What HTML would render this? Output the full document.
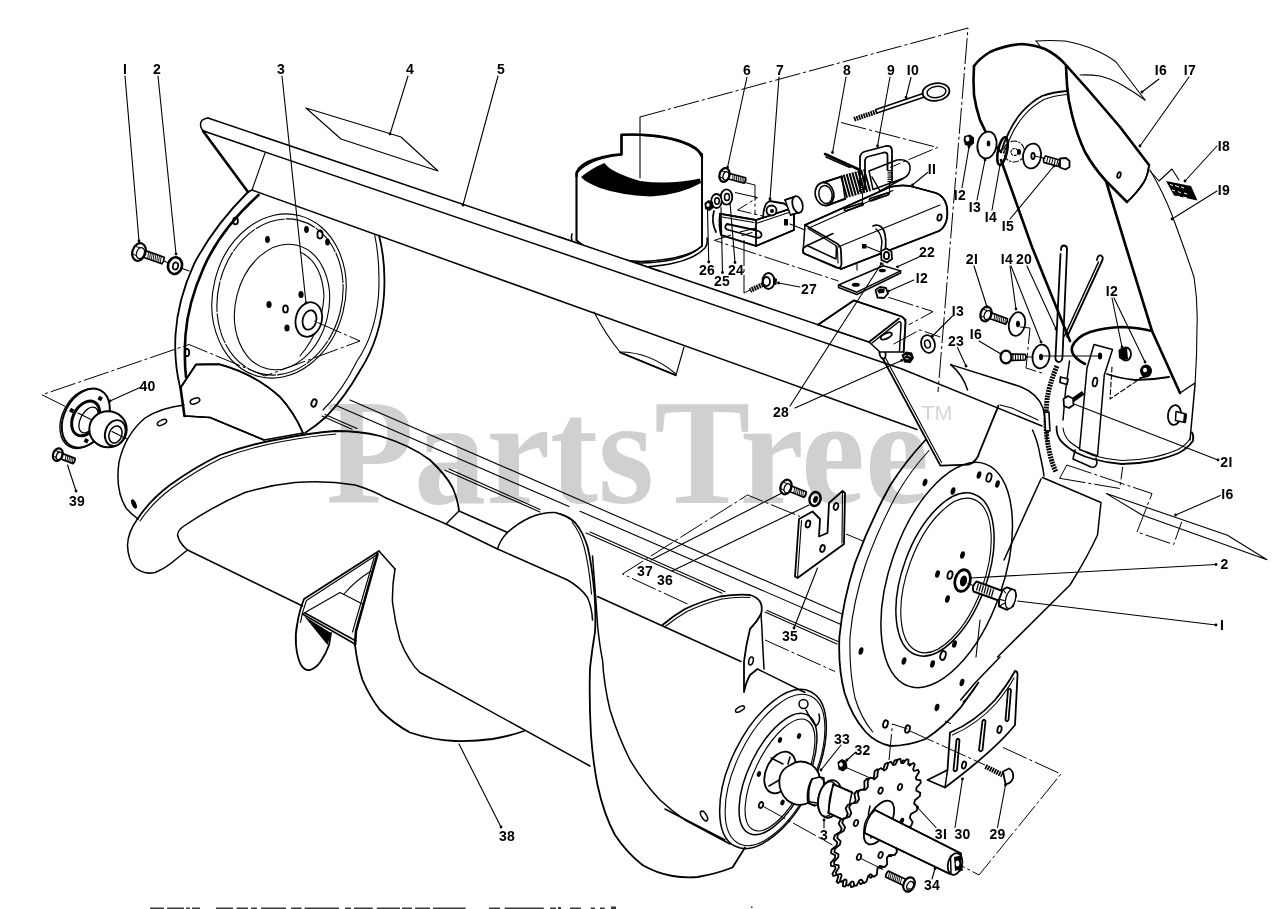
<!DOCTYPE html>
<html>
<head>
<meta charset="utf-8">
<title>Parts Diagram</title>
<style>
html,body{margin:0;padding:0;background:#fff;}
body{width:1280px;height:909px;overflow:hidden;font-family:"Liberation Sans",sans-serif;}
svg{display:block;position:absolute;left:0;top:0;}
.wm{font-family:"Liberation Serif",serif;font-weight:bold;fill:#cccccc;}
.tm{font-family:"Liberation Sans",sans-serif;font-weight:normal;fill:#cccccc;}
.l{fill:none;stroke:#000;stroke-width:1.5;stroke-linecap:round;stroke-linejoin:round;}
.t{fill:none;stroke:#000;stroke-width:1.1;stroke-linecap:round;stroke-linejoin:round;}
.m{fill:none;stroke:#000;stroke-width:1.8;stroke-linecap:round;stroke-linejoin:round;}
.b{fill:none;stroke:#000;stroke-width:2.6;stroke-linecap:round;stroke-linejoin:round;}
.w{fill:#fff;stroke:#000;stroke-width:1.5;stroke-linejoin:round;}
.wm2{fill:#fff;stroke:#000;stroke-width:1.8;stroke-linejoin:round;}
.k{fill:#000;stroke:none;}
.d{fill:none;stroke:#000;stroke-width:1;stroke-dasharray:26 3 3 3;}
.n{font-family:"Liberation Sans",sans-serif;font-weight:bold;font-size:14px;letter-spacing:0.3px;fill:#000;text-anchor:middle;}
</style>
</head>
<body>
<svg width="1280" height="909" viewBox="0 0 1280 909">
<rect x="0" y="0" width="1280" height="909" fill="#fff"/>

<!-- SECTION: housing -->
<g id="housing">
<!-- top bar -->
<path class="l" d="M208,118 L878,345"/>
<path class="l" d="M208,118 Q200,119 200.5,125 Q201,130 205,131.5"/>
<path class="l" d="M205,131.5 L902,369 L1042,426"/>
<path class="b" d="M203,131 L248,192"/>
<path class="t" d="M265,153 L252,190"/>
<path class="l" d="M248,192 L252,190 L848,404.5"/>
<path class="l" d="M848,404.5 L917,429.5"/>
<!-- bar end cap -->
<ellipse class="m" cx="882.5" cy="353" rx="3" ry="6" transform="rotate(-10 882.5 353)"/>
<path class="l" d="M878,345 Q882,344 885,347"/>
<!-- rear lower lines of housing -->
<path class="t" d="M350,400 L842,614"/>
<path class="t" d="M335,405 L569,506.5 M580,511.3 L841,624.5"/>
<path class="t" d="M322,416 L352,429.3 M445,470.2 L540,512 M586,533 L722,593.2 M765,612 L837,644"/>
<path class="t" d="M325,414.5 L357,428.6 M449,469 L540,509.5 M590,532 L725,591.8 M767,610.5 L838,641.5"/>
<!-- deflector lip under bar -->
<path class="t" d="M594,312 Q606,335 620,352 L676,375 L684,347"/>
<path class="t" d="M620,352 Q650,352 676,374"/>
<path class="l" d="M620,352.5 L676,375.5"/>
<!-- parallelogram 4 -->
<path class="t" d="M306,108 L401,137 L438,171 L341,139 Z"/>
</g>

<!-- SECTION: leftplate -->
<g id="leftplate">
<!-- outer edge -->
<path class="m" d="M248,192 Q214,226 194,264 Q177.5,300 175.5,335 Q174,362 180,387"/>
<path class="b" d="M258.500,195 Q220,230 203.5,268 Q188,303 185.5,335 Q184,360 186,377"/>
<path class="b" d="M180.500,387.500 L184.5,416"/>
<!-- right edge arc -->
<path class="m" d="M379,235.500 Q386,262 384,295 Q381,338 360.2,370.2 Q345,397 326.4,416.5 Q316,426 305,433"/>
<path class="t" d="M374.500,234 Q380.500,262 378.500,296 Q375,335 357,361 Q343,390 323,410"/>
<!-- outer ring (thin double) -->
<ellipse class="t" cx="279" cy="296" rx="66" ry="83" transform="rotate(14 279 296)"/>
<ellipse class="t" cx="280" cy="297" rx="62" ry="79" transform="rotate(14 280 297)" stroke-dasharray="30 2"/>
<!-- inner disc -->
<ellipse class="t" cx="282" cy="307" rx="46.500" ry="63.500" transform="rotate(13.5 282 307)"/>
<path class="t" d="M300,252 Q322,262 324,296 Q322,330 300,356"/>
<!-- hub washer 3 -->
<ellipse class="wm2" cx="308.8" cy="319.5" rx="13" ry="17.5" transform="rotate(14 308.8 319.5)" stroke-width="2.600"/>
<ellipse class="wm2" cx="309.5" cy="320" rx="6.800" ry="9.800" transform="rotate(14 309.5 320)" stroke-width="2.300"/>
<!-- hub holes -->
<ellipse class="k" cx="269" cy="304.5" rx="2.6" ry="3.6"/>
<ellipse class="k" cx="301" cy="294.5" rx="2.6" ry="3.6"/>
<ellipse class="k" cx="287" cy="328" rx="2.6" ry="3.6"/>
<ellipse class="m" cx="285.5" cy="309" rx="2.4" ry="3.6"/>
<!-- plate holes -->
<ellipse class="k" cx="267.5" cy="239.5" rx="2.4" ry="3.4"/>
<ellipse class="k" cx="306.5" cy="229.5" rx="2.4" ry="3.4"/>
<ellipse class="m" cx="320" cy="234.5" rx="2.6" ry="4"/>
<ellipse class="k" cx="327.5" cy="242" rx="2.4" ry="3.6"/>
<ellipse class="m" cx="235.5" cy="221" rx="2.4" ry="3.4"/>
<ellipse class="m" cx="187" cy="352.500" rx="2.200" ry="3.600"/>
<ellipse class="m" cx="314" cy="403" rx="2.4" ry="3.8" transform="rotate(20 314 403)"/>
<!-- drum cover -->
<path class="w" d="M181,387 L196,364.5 L219,364.2 Q255,374 280,397 Q294,412 303,433 L264,440 L210,417.5 L185,416 Z" stroke="none"/>
<path class="m" d="M181,387 L196,364.5 L219,364.2 Q255,374 280,397 Q294,412 303,433"/>
<path class="l" d="M185,416 L210,417.5 L264,440"/>
<ellipse class="l" cx="195" cy="401" rx="5" ry="2.6" transform="rotate(-20 195 401)"/>
</g>

<!-- SECTION: auger -->
<g id="auger">
<!-- left drum end -->
<path class="l" d="M184,405 Q160,408 145,418 Q125,435 119,462 Q115,490 126,508 Q131,514 138,519"/>
<ellipse class="l" cx="162" cy="422.5" rx="5" ry="2.3" transform="rotate(-25 162 422.5)"/>
<ellipse class="k" cx="134" cy="504" rx="2.2" ry="5" transform="rotate(-25 134 504)"/>
<!-- flight 1 outer -->
<path class="m" d="M137.500,519 Q150,500 170,485 Q195,467 220,455 Q250,444 280,439 Q310,433 335,431 Q360,431 380,436 Q410,445 430,460 Q446,475 452.500,487.500 Q458,500 459,511"/>
<path class="t" d="M140,521 Q152,503 172,488 Q197,470 222,458 Q252,447 282,441.5 Q312,436 336,434"/>
<path class="l" d="M137.500,519 Q128,532 127.500,545 Q128,560 135,567.500 Q144,575 155,572.500 Q166,568 175,560 L187.500,550"/>
<!-- flight 1 inner -->
<path class="l" d="M187.500,550 Q179,543 177.500,535 Q178,530 184,526 Q215,505 245,492.500 Q270,485 295,482.500 Q325,480 355,485 Q372,490 385,497.500 L446,524 L497.500,549 L567.500,580 Q580,587 587.500,597.500 Q592,608 592.500,620"/>
<path class="l" d="M187.500,550 L302.500,606"/>
<path class="l" d="M459,511 L446,524"/>
<path class="l" d="M459,511 L507.500,532.500"/>
<!-- flight 2 -->
<path class="l" d="M497.500,549 Q500,540 507.500,532.500 Q518,523 530,517.500 Q543,512 555,512.500 Q566,515 575,522.500"/>
<path class="m" d="M560,514 Q570,517 575,522.500 Q583,532 587.500,546.500 Q592,565 594.5,594 Q596,615 595,632 Q592,650 590,668 Q589,700 591,735 Q593,762 597.500,785 Q604,815 615,835 Q627,853 642.500,865 Q656,873 672.500,876 Q685,878 697.500,877 Q716,874 732.500,867.500 L745,847.500"/>
<path class="t" d="M572,522 Q580,532 584,546.500 Q589,565 591.5,594"/>
<path class="l" d="M592.5,556 Q596,600 597.6,626 Q599.5,645 602.5,660 Q604,685 610,710 Q618,736 630,760 Q643,782 660,800 Q672,811 685,820 L730,844"/>
<path class="l" d="M597.500,596.500 L741,661.500"/>
<!-- paddle -->
<path class="m" d="M379,551 L304,599 Q299,612 297.500,622.500 Q295,634 296,645 Q297,657 301,665 Q305,671 310,670 Q316,668 320,662.500 Q326,654 329,645 L331,633"/>
<path class="t" d="M376.500,555 L306.500,600.500 Q302,612 300.500,622.500"/>
<path class="t" d="M302.500,614 L340,592.500 L362.500,604"/>
<path class="l" d="M302.500,614 L355,644 M305,613 L356,641"/>
<path class="k" d="M304,616 L331,633 L327.500,645 Z"/>
<path class="b" d="M377.500,554 L356,631 L355,645"/>
<path class="t" d="M374,558 L352.500,632"/>
<path class="l" d="M379,551 L395,569"/>
<path class="t" d="M344,594 Q355,581 371,571"/>
<!-- big blade 38 -->
<path class="m" d="M355,645 Q357,663 362.500,680 Q370,697 380,710 Q394,724 410,732.500 Q432,740 455,741 Q475,741.5 492.500,739 Q510,736 524,731"/>
<path class="l" d="M395,569 Q392,586 392.500,602.500 Q395,622 400,640 Q404,651 410,660 Q414,667 420,672.500 L590,766"/>
<!-- flight 3 -->
<path class="m" d="M662.500,625 Q673,616 685,609 Q702,601 720,596.500 Q736,594 750,595 Q757,597 760,601.500 Q763,607 761,614 Q757,622 750,629 Q746,645 744,661.500 L744,692 Q746,682 750,675 L757.500,669"/>
<path class="t" d="M664.500,627 Q675,618.500 687,611.500 Q704,603.500 722,599 Q737,596.500 750,597.500"/>
<path class="l" d="M761,614 Q762,628 762.500,641.500 L764,669"/>
<ellipse class="l" cx="751" cy="661" rx="2.2" ry="4" transform="rotate(12 751 661)"/>
<!-- drum right end -->
<path class="l" d="M757.500,669 L805,692.500"/>
<path class="l" d="M665,809 L725,840"/>
<ellipse class="l" cx="740" cy="709" rx="5" ry="2.2" transform="rotate(-30 740 709)"/>
<ellipse class="l" cx="704" cy="816" rx="2.5" ry="5.500" transform="rotate(-30 704 816)"/>
<ellipse class="l" cx="773" cy="769" rx="86" ry="42" transform="rotate(-64 773 769)"/>
<ellipse class="t" cx="775" cy="770" rx="82" ry="38.5" transform="rotate(-64 775 770)"/>
<ellipse class="l" cx="778" cy="774" rx="66" ry="29" transform="rotate(-64 778 774)"/>
<ellipse class="t" cx="780" cy="775" rx="61" ry="25" transform="rotate(-64 780 775)"/>
</g>

<!-- SECTION: rightplate -->
<g id="rightplate">
<!-- triangular gusset -->
<path class="m" d="M882.5,358 L940.4,465.6 L968.5,464.7 Q977,462 979.7,451.6 L998.4,405.8"/>
<path class="t" d="M885,357 L941.5,462.5"/>
<!-- plate outer curve -->
<path class="m" d="M925.5,440 Q905,462 890,485.7 Q870,522 855,563 Q843,600 839.4,637 Q838,668 844.6,693 Q852,717 865.7,732 Q876,743 890.4,746 Q908,746 925.5,739 Q944,727 960.7,707.4 L978.3,682.8"/>
<path class="t" d="M929,450.5 Q911,470 897,494 Q879,527 865.7,564 Q853,602 850,637 Q849,670 855,698 Q861,718 872.8,732"/>
<!-- ring outer ellipse -->
<ellipse class="l" cx="946.7" cy="575" rx="117.5" ry="56.5" transform="rotate(-71 946.7 575)"/>
<!-- inner disc double -->
<ellipse class="l" cx="945" cy="574.5" rx="85.4" ry="42" transform="rotate(-70 945 574.5)"/>
<ellipse class="t" cx="946" cy="575.5" rx="81" ry="38" transform="rotate(-70 946 575.5)"/>
<!-- holes -->
<ellipse class="k" cx="925" cy="482.500" rx="2.3" ry="3.8" transform="rotate(15 925 482.5)"/>
<ellipse class="k" cx="953" cy="491" rx="2.3" ry="3.8" transform="rotate(15 953 491)"/>
<ellipse class="k" cx="979" cy="475" rx="2.2" ry="3.8" transform="rotate(15 979 475)"/>
<ellipse class="m" cx="989" cy="477.500" rx="2.4" ry="4.4" transform="rotate(15 989 477.5)"/>
<ellipse class="k" cx="997.500" cy="484" rx="2.2" ry="3.8" transform="rotate(15 997.5 484)"/>
<ellipse class="k" cx="962.500" cy="555" rx="2.3" ry="3.8" transform="rotate(15 962.5 555)"/>
<ellipse class="k" cx="937.500" cy="574" rx="2.3" ry="3.8" transform="rotate(15 937.5 574)"/>
<ellipse class="m" cx="950" cy="575" rx="2.4" ry="4" transform="rotate(15 950 575)"/>
<ellipse class="k" cx="947.500" cy="599" rx="2.3" ry="3.8" transform="rotate(15 947.5 599)"/>
<ellipse class="k" cx="861" cy="651" rx="2.3" ry="3.8" transform="rotate(15 861 651)"/>
<ellipse class="k" cx="904" cy="661" rx="2.3" ry="3.8" transform="rotate(15 904 661)"/>
<ellipse class="k" cx="932.500" cy="664" rx="2.3" ry="3.8" transform="rotate(15 932.5 664)"/>
<ellipse class="m" cx="943" cy="655.500" rx="2.6" ry="4.6" transform="rotate(15 943 655.5)"/>
<ellipse class="k" cx="954.500" cy="644" rx="2.3" ry="3.8" transform="rotate(15 954.5 644)"/>
<ellipse class="k" cx="962" cy="682.500" rx="2.3" ry="3.8" transform="rotate(15 962 682.5)"/>
<ellipse class="k" cx="937" cy="707.500" rx="2.3" ry="3.8" transform="rotate(15 937 707.5)"/>
<ellipse class="m" cx="885.500" cy="724" rx="2.3" ry="3.8" transform="rotate(15 885.5 724)"/>
<ellipse class="m" cx="907.500" cy="729" rx="2.3" ry="3.8" transform="rotate(15 907.5 729)"/>
<!-- washer 2 and bolt 1 -->
<ellipse cx="962.600" cy="580.600" rx="7.600" ry="11" transform="rotate(15 962.6 580.6)" fill="#fff" stroke="#000" stroke-width="2.800"/>
<ellipse class="k" cx="963.500" cy="581" rx="3.400" ry="5.500" transform="rotate(15 963.5 581)"/>
<path class="t" d="M968,583.500 L973,585.500"/>
<path d="M976.500,581.500 L1004,591.500 L1000,601 L973.500,591.500 Q971.500,586 976.500,581.500 Z" fill="#fff" stroke="#000" stroke-width="1.900" stroke-linejoin="round"/>
<path d="M978.500,583.500 L976.500,590.500 M981,584.500 L979,591.500 M983.500,585.500 L981.500,592.500 M986,586.500 L984,593.500 M988.500,587.500 L986.500,594.500 M991,588.500 L989,595.500 M993.500,589.500 L991.500,596.500" stroke="#000" stroke-width="1.200" fill="none"/>
<path d="M1003,589.500 L1007,587.300 L1015,590.500 L1016,595.400 L1013,606.300 L1007,609.800 L999,606.300 L999,599.400 Z" fill="#fff" stroke="#000" stroke-width="1.900" stroke-linejoin="round"/>
<ellipse cx="1010.600" cy="599" rx="4.800" ry="9.800" transform="rotate(15 1010.6 599)" fill="#fff" stroke="#000" stroke-width="1.300"/>
<path class="t" d="M1003,589.500 L1005.500,593 M999,599.400 L1004.500,600.500 M999,606.300 L1005,603"/>
<!-- side shield -->
<path class="l" d="M1032.500,430 Q1038,442 1040,455 Q1043,468 1044,476"/>
<path class="l" d="M1042.500,477.500 L1101,502.500 L1097.500,535 Q1088,556 1070,585 L997.500,657"/>
<path class="l" d="M1041,479 L1004,560"/>
<path class="t" d="M980,620 L976,657"/>
<!-- 23 curve top -->
<path class="l" d="M950.7,364.6 L1020,386.5 Q1037,393 1043,408 Q1046,420 1047,440"/>
<path class="l" d="M950.7,364.6 Q963,375 967.6,390"/>
<path class="t" d="M1000,405 L1012,408 L1038,420"/>
</g>

<!-- SECTION: cylinder -->
<g id="cylinder">
<path class="w" d="M576.5,173 L576.5,240 Q600,262 641,263 Q685,262 702,246 L702,154 Q680,134 621.5,134.700 L621.5,154.400 Q590,158 576.5,173 Z" stroke="none"/>
<path class="l" d="M572,234 Q570,240 575,246 Q600,266 645,267 Q690,264 705,248 Q708,244 707,238"/>
<path class="l" d="M576.5,240.5 Q600,260 641,261.5 Q685,260 702,246"/>
<path class="m" d="M576.5,173 L576.5,240.5"/>
<path class="m" d="M702,154 L702,246"/>
<path class="b" d="M576.5,176 Q576,168 588,162 Q602,156 621.5,154.400 L621.5,134.700 Q665,133 690,145 Q700,150 702,157"/>
<path class="k" d="M581,177 Q592,168 604.5,163 Q610,172 640,181 Q670,185 700,178.500 L701,183 Q680,195 650.500,196.500 Q620,195 600,188 Q585,182 581,177 Z"/>
<path d="M560,237.300 L655,269.500 L655,281 L560,248.800 Z" fill="#fff"/>
<path class="l" d="M560,237.300 L660,271.200"/>
</g>

<!-- SECTION: topparts -->
<g id="topparts">
<!-- eye bolt 10 -->
<ellipse class="m" cx="936" cy="92" rx="13.500" ry="8.800" transform="rotate(-8 936 92)"/>
<ellipse class="l" cx="936.5" cy="92" rx="9.500" ry="5.600" transform="rotate(-8 936.5 92)"/>
<path class="l" d="M923,93.500 L876,109.500 M924.500,97 L877,113"/>
<path d="M877,111.500 L853.500,119.500" stroke="#000" stroke-width="4.800" stroke-dasharray="1.700 0.800" fill="none"/>
<!-- spring 8 leg -->
<path class="b" d="M825,154 L860,170"/>
<path class="l" d="M826,157 L850,167.500"/>
<!-- channel 11 -->
<path class="w" d="M805,225 L890,187 Q900,184.500 910,186 L936,193 Q944,196 946.500,205 Q948.500,215 946,222 Q944,228 939,231 L841,269 L803,253 Z" stroke="none"/>
<path class="m" d="M805,225 L890,187 Q900,184.500 910,186 L936,193 Q944,196 946.500,205 Q948.500,215 946,222 Q944,228 939,231 L841,269"/>
<path class="t" d="M809,228 L893,190.500 M838,247 L940,205"/>
<path class="m" d="M805,225 L837,243.500 Q841,246 841,251 L841.500,264 Q841,269.500 836,267.500 L805,254 Q802,252 803.500,248 L807,245.500"/>
<path class="l" d="M807,245.500 L833,233.500 M807,245.500 L836,259 L836.500,246"/>
<path class="t" d="M808,228.500 L835,245 Q837.500,247 837.500,251 L838,263"/>
<ellipse class="m" cx="939.500" cy="217.500" rx="2" ry="3.200" transform="rotate(15 939.5 217.5)"/>
<!-- slots on top of channel -->
<path class="m" d="M845,208.500 L862,203 Q864,203.500 863,205 L846,210.800 Q843.500,210.500 845,208.500 Z"/>
<path class="m" d="M870,198.500 L887,193 Q889,193.500 888,195 L871,200.800 Q868.500,200.500 870,198.500 Z"/>
<!-- curved strap on channel side -->
<path class="m" d="M873,226 Q880,223 884,231 Q887,240 885,251"/>
<path class="l" d="M876,229 Q881,233 882,242 L881,250"/>
<rect class="k" x="862" y="244" width="4.500" height="4.500"/>
<path class="t" d="M866.500,246.500 L880,252"/>
<!-- nut on channel -->
<path class="wm2" d="M881,251 L886.500,248.500 L891.500,251.500 L892,259 L887,262.500 L881.500,260 Z"/>
<ellipse class="m" cx="886.500" cy="255.500" rx="2.600" ry="3.600"/>
<path class="t" d="M857,263 L857,270 M883,263.500 L883,268"/>
<!-- spring/tube 8 -->
<path class="w" d="M823,182.500 L842,176.500 L845,198.500 L827,205.500 Z" stroke="none"/>
<path class="m" d="M822,182.800 L842,176.300 M827.500,205.300 L845.500,198.800"/>
<ellipse class="wm2" cx="824.500" cy="194" rx="9.300" ry="11.600" transform="rotate(-12 824.5 194)" stroke-width="2"/>
<ellipse class="l" cx="825.500" cy="194.500" rx="6.600" ry="9" transform="rotate(-12 825.5 194.5)"/>
<path d="M843,187 L868,180" stroke="#000" stroke-width="23" stroke-dasharray="2 1" fill="none"/>
<path class="w" d="M869,171 L897,160 Q908,158.500 910,166 Q911,175 903,178.500 L873,189.500 Z"/>
<path class="l" d="M872,177 L880,191 L903,178.500"/>
<!-- u-bolt 9 -->
<path class="m" d="M860,191 L860,158 Q860,153 865,151.500 L886,146 Q892,145 892,151 L892,181"/>
<path class="m" d="M865,189 L865,161 Q865,157.500 868.500,156.500 L884,152.500 Q887.500,152 887.500,155.500 L887.500,170"/>
<path d="M889.500,170 L889.500,182" stroke="#000" stroke-width="4" stroke-dasharray="1.200 1" fill="none"/>
<path d="M862.500,178 L862.500,193" stroke="#000" stroke-width="4" stroke-dasharray="1.200 1" fill="none"/>
<path class="t" d="M862.500,193 L862.500,204 M889.500,182 L889.500,194"/>
<!-- plate 22 -->
<path class="w" d="M838.500,285 L883.300,265.800 L900.600,270.900 L900.600,273 L856.800,294.500 L838.500,287.500 Z"/>
<path class="l" d="M838.500,285 L856.800,292.200 L900.600,270.900"/>
<ellipse class="k" cx="855.800" cy="284.700" rx="4" ry="2"/>
<ellipse class="k" cx="882.300" cy="270.500" rx="3.600" ry="1.800"/>
<!-- nut 12 -->
<path class="wm2" d="M875.500,290 L880,287 L886,288 L888,293.500 L884,298 L877.500,297.500 Z" stroke-width="1.600"/>
<path class="k" d="M877,290.500 L880.500,288.500 L885,289.500 L884,293 L879,293.500 Z"/>
<!-- bracket 7 -->
<path class="w" d="M720,213.750 L756,220 L794,207.500 L794,230 L756,246 L721,235 Z" stroke="none"/>
<path class="m" d="M720,213.750 L756,220 L756,246 L721,235 Q718.500,225 720,213.750"/>
<path class="m" d="M756,220 L794,207.500 L794,230 L756,246"/>
<path class="t" d="M722,217 L754,222.500 M757.500,223 L792,211.500"/>
<path class="m" d="M727,224 L757,230.500 Q762,232 761.500,235.500 Q760.500,238.500 756,237.500 L727,229.500 Q723.500,227 727,224 Z"/>
<path class="t" d="M740,232 L756,228 M742,235.500 L752,232.500"/>
<rect class="k" x="784" y="219" width="4" height="6.500"/>
<path class="wm2" d="M763,217.500 Q763.500,204 769.500,201 L784,203.500 L790.500,208.500 L768,216 Z"/>
<circle class="wm2" cx="771.500" cy="210.500" r="5" stroke-width="1.700"/>
<circle class="k" cx="772" cy="211" r="2"/>
<path class="w" d="M785,200 L795,196.500 L801,212 L790.500,215 Z" stroke="none"/>
<path class="l" d="M785,200 L795,196.500 M790.500,215 L800,212"/>
<ellipse class="wm2" cx="797.500" cy="204.500" rx="5" ry="8.500" transform="rotate(-15 797.5 204.5)"/>
<path class="t" d="M790,224 L805,230"/>
<!-- washers 24,25 nut 26 -->
<ellipse class="wm2" cx="726.500" cy="197" rx="5.800" ry="7.600"/>
<ellipse class="l" cx="727" cy="197" rx="2.500" ry="3.600"/>
<ellipse class="wm2" cx="716.500" cy="201" rx="5.200" ry="7"/>
<ellipse class="l" cx="717" cy="201" rx="2.300" ry="3.300"/>
<path class="k" d="M704.500,203 L708.500,200 L713,202 L713.500,208 L709.500,211 L705,209 Z"/>
<ellipse cx="708" cy="205" rx="1.600" ry="2" fill="#fff"/>
<path class="m" d="M714,211 Q711,222 716,232"/>
<!-- bolt 6 -->
<path d="M727.5,178.700 L744.3,183.200 Q746.400,180.900 745.700,177.800 L728.900,173.300 Z" fill="#fff" stroke="#000" stroke-width="1.700" stroke-linejoin="round"/>
<path d="M732.8,179.800 L732.9,174.700 M734.6,180.300 L734.8,175.200 M736.5,180.800 L736.6,175.700 M738.3,181.300 L738.4,176.200 M740.1,181.800 L740.3,176.700 M742.0,182.200 L742.1,177.200 M743.8,182.700 L743.9,177.600 " stroke="#000" stroke-width="0.9" fill="none"/>
<ellipse cx="724.5" cy="175.0" rx="5.0" ry="7.0" transform="rotate(15.0 724.5 175.0)" fill="#fff" stroke="#000" stroke-width="2.2"/>
<ellipse cx="726.2" cy="175.5" rx="2.9" ry="4.3" transform="rotate(15.0 724.5 175.0)" fill="none" stroke="#000" stroke-width="1.3"/>
<path d="M719.6,177.0 L723.6,178.4 M721.3,170.9 L725.4,171.6" stroke="#000" stroke-width="1" fill="none"/>
<!-- screw 27 -->
<ellipse class="wm2" cx="768.500" cy="281" rx="6" ry="8" stroke-width="1.700"/>
<ellipse class="wm2" cx="766.500" cy="281.500" rx="3.500" ry="4.500"/>
<path d="M763,284.500 L750,290.500" stroke="#000" stroke-width="5" stroke-dasharray="1.800 0.800" fill="none"/>
<path class="k" d="M773,277 L777,279 L776.500,284.500 L773,285.500 Z"/>
<!-- bracket 28 on bar -->
<path class="w" d="M818,324.800 L853.800,300.400 L901.600,316.600 L905.700,319.700 L903.600,352 L880,352 L869,342 Z" stroke="none"/>
<path class="m" d="M818,324.800 L853.800,300.400 L899,315.500 Q905.500,317.500 905.500,323 L903.600,352"/>
<path class="m" d="M869,342 L899,318.500"/>
<path class="l" d="M872,343 L898.500,322 Q901,321 901,324.500 L899.500,351"/>
<ellipse class="m" cx="886.300" cy="336" rx="6" ry="2.600" transform="rotate(-25 886.3 336)"/>
<!-- nut & washer 13 near bar end -->
<path class="k" d="M901.500,355 L906,351.500 L912,352.500 L914,358 L910.500,363 L904,362.500 Z"/>
<path d="M904,356.500 l2.500,-1.500 m1.500,0.500 l2.500,1 m-5,2 l3,0.500" stroke="#fff" stroke-width="0.900" fill="none"/>
<ellipse class="wm2" cx="928" cy="344" rx="6.800" ry="9" transform="rotate(-15 928 344)" stroke-width="1.700"/>
<ellipse class="l" cx="927.500" cy="344" rx="2.800" ry="4" transform="rotate(-15 927.5 344)"/>
</g>

<!-- SECTION: chute -->
<g id="chute">
<!-- piece 16 top (thin) -->
<path class="t" d="M1036,41 Q1050,40 1065,41 Q1082,44 1095,50 Q1107,55 1116,62 L1145,100"/>
<path class="t" d="M1080,75 Q1090,74.5 1100,76 Q1112,79 1122,85 Q1134,92 1145,100"/>
<path class="t" d="M1036,41 L1040,46"/>
<!-- chute body 19 -->
<path class="t" d="M1150,170 Q1163,192 1172,215 Q1185,250 1194,277 Q1198,302 1197,327 Q1197,355 1195,385"/>
<path class="b" d="M1001,160 L1032,247 L1070,341"/>
<path class="b" d="M1106,181 L1126,247 L1152,331 L1180,393"/>
<path class="l" d="M1180,393 L1195,383"/>
<!-- deflector 17 -->
<path class="w" d="M1065,64 L1090,92 L1120,127 L1149,165 Q1148,175 1144,182 Q1137,193 1127,202 L1106,181 Q1094,168 1085,152 Q1077,135 1072,115 Q1068,100 1067,85 L1066,66 Z" stroke="none"/>
<path class="b" d="M974,66 Q980,58 990,52 Q1005,45 1022,44 Q1035,45 1045,49 Q1057,55 1065,64 L1090,92 L1120,127 L1149,165"/>
<path class="m" d="M1149,165 Q1148,175 1144,182 Q1137,193 1127,202"/>
<path class="b" d="M1127,202 L1106,181 Q1094,168 1085,152 Q1077,135 1072,115 Q1068,100 1067,85 L1066,66"/>
<path class="b" d="M974,66 Q973,80 974,95 Q976,108 980,120 Q985,132 992,142 L1001,152"/>
<path class="m" d="M1067,91 Q1053,92 1042,96 Q1031,102 1022,112 Q1014,121 1009,132 Q1004,142 1001,152"/>
<path class="t" d="M1067,94.5 Q1054,95.5 1044,99.500 Q1033,105.500 1025,114.500 Q1017,123.5 1012,134 Q1007,144 1004,153"/>
<ellipse class="m" cx="1119" cy="175" rx="1.600" ry="3" transform="rotate(15 1119 175)"/>
<!-- hardware 12,13,14,15 -->
<path class="k" d="M964.5,136 L970,134.5 L974,137.500 L974,143.500 L970,146.5 L965,145 L963.5,140 Z"/>
<ellipse cx="967.5" cy="139" rx="2" ry="2.5" fill="#fff"/>
<ellipse class="wm2" cx="987" cy="145" rx="9.500" ry="13.500" transform="rotate(10 987 145)" stroke-width="2.300"/>
<ellipse class="k" cx="988.5" cy="143.500" rx="1.800" ry="3"/>
<ellipse class="b" cx="1002.5" cy="151" rx="4.5" ry="14" transform="rotate(12 1002.5 151)"/>
<circle class="t" cx="1014" cy="151.500" r="10.500" stroke-dasharray="6 2 1.5 2"/>
<circle class="t" cx="1014.5" cy="152" r="3.5" stroke-dasharray="2 1.5"/>
<ellipse class="k" cx="1019" cy="152" rx="2" ry="3"/>
<ellipse class="wm2" cx="1032" cy="156" rx="9" ry="12.500" transform="rotate(10 1032 156)" stroke-width="2.300"/>
<ellipse class="m" cx="1033" cy="156" rx="1.700" ry="3"/>
<path d="M1045.500,156 L1060,160 L1058.500,166.500 L1044,162.500 Q1042.500,159 1045.500,156 Z" fill="#fff" stroke="#000" stroke-width="1.700"/>
<path d="M1048,157 L1046.500,163 M1050.500,157.700 L1049,163.700 M1053,158.400 L1051.500,164.400 M1055.500,159.100 L1054,165.100 M1058,159.800 L1056.500,165.800" stroke="#000" stroke-width="1" fill="none"/>
<path class="wm2" d="M1060,158.5 L1066,158 L1069.5,161 L1069.5,167 L1065.5,169.500 L1060,167.500 Z"/>
<path class="t" d="M1035,156 L1045,158.500"/>
<!-- decal 18 -->
<path class="k" d="M1166,181 L1191,186 L1197.500,200.500 L1174,195.500 Z"/>
<path d="M1170,184.500 l3,1 m2,0 l4,1.500 m2,0 l3,1 m-12,2 l3,1 m3,0.500 l3,1.500 m3,0 l3,1 m-10,2 l3,1 m3,0 l4,1" stroke="#fff" stroke-width="1" fill="none"/>
<path class="t" d="M1150,171 L1159,181 L1172,169 L1179,180"/>
<!-- rods 20 -->
<path class="m" d="M1061,250 Q1061,245.500 1064,245.500 Q1067.500,246 1067,250 L1062.500,357 Q1062,362 1058.500,362 Q1055,361.500 1055.500,357 L1060.500,254"/>
<path class="m" d="M1097,260 Q1097.500,255 1101,255.500 Q1104,257 1102,261 L1067,337"/>
<path class="l" d="M1098.5,262 L1064.5,336"/>
<!-- braided cable -->
<path d="M1057,366 Q1049,385 1047,400 Q1045,420 1047,438 Q1050,460 1056,472" fill="none" stroke="#000" stroke-width="5" stroke-dasharray="1.900 0.900"/>
<path d="M1046.500,413 L1047.500,430" stroke="#fff" stroke-width="3" fill="none"/>
<path class="l" d="M1044.5,412 L1049,412 L1050,431 L1045.5,431 Z"/>
<!-- lower ring top ellipse -->
<path class="b" d="M1085,364 Q1070,356 1072,347 Q1076,337 1090,332 Q1105,327.500 1122,327 Q1138,327.500 1152,331"/>
<path class="m" d="M1107,374 Q1120,378.500 1135,380 Q1152,380 1169,377"/>
<!-- ring cylinder sides -->
<path class="l" d="M1195,385 L1190,440"/>
<path class="l" d="M1069.500,361 Q1065,390 1063,420"/>
<!-- flange -->
<path class="m" d="M1056.6,426.4 Q1056,434 1060.7,440.7 Q1067,448 1077,453 Q1085,457 1093,459 Q1107,463 1121.700,464 Q1137,464 1152,461 Q1167,458 1178.700,453 Q1188,448 1193,440.700 Q1194,436 1192,432.500"/>
<path class="t" d="M1063,428 Q1064,436 1070,442 Q1080,450 1093,455.500 Q1107,459.5 1121.700,460.5 Q1137,460.5 1152,457.500 Q1167,454.5 1178,449.500 Q1186,445 1190,438.700"/>
<!-- bracket strip -->
<path class="w" d="M1094,344.500 L1112.500,349.500 L1104.300,375 L1097.500,456 L1079.500,449.500 L1087,368 Z"/>
<path class="l" d="M1075,450 L1073,459 L1091,467 Q1096,468 1097,463 L1096,458"/>
<ellipse class="k" cx="1100" cy="356" rx="2.200" ry="3.5"/>
<ellipse class="m" cx="1095" cy="382" rx="2.200" ry="4.5" transform="rotate(10 1095 382)"/>
<!-- nuts 12 -->
<ellipse class="wm2" cx="1126" cy="354" rx="5" ry="6.5"/>
<path class="k" d="M1118.5,350 L1122,347.500 L1127,348 L1128,359 L1123,360.5 L1119,358 Z"/>
<ellipse class="k" cx="1146" cy="371" rx="6" ry="6.500"/>
<ellipse cx="1145" cy="370" rx="2" ry="2.300" fill="#fff"/>
<path class="l" d="M1140,378 L1145,377"/>
<!-- washers 14 and bolts 21, 16 -->
<ellipse class="wm2" cx="1017" cy="324" rx="8" ry="12" transform="rotate(12 1017 324)" stroke-width="2.300"/>
<ellipse class="k" cx="1018" cy="324" rx="2" ry="3.200"/>
<ellipse class="wm2" cx="1041" cy="356.500" rx="8.500" ry="12" transform="rotate(8 1041 356.5)" stroke-width="2.300"/>
<ellipse class="k" cx="1041" cy="357" rx="2" ry="3.200"/>
<path d="M988.8,318.2 L1005.5,324.3 Q1007.9,322.0 1007.5,318.7 L990.9,312.6 Z" fill="#fff" stroke="#000" stroke-width="1.7" stroke-linejoin="round"/>
<path d="M994.0,319.8 L994.7,314.3 M995.8,320.5 L996.5,315.0 M997.6,321.1 L998.3,315.6 M999.4,321.8 L1000.1,316.3 M1001.2,322.4 L1001.9,316.9 M1002.9,323.1 L1003.7,317.6 M1004.7,323.7 L1005.5,318.2 " stroke="#000" stroke-width="0.9" fill="none"/>
<ellipse cx="986.0" cy="314.0" rx="5.4" ry="7.5" transform="rotate(20.1 986.0 314.0)" fill="#fff" stroke="#000" stroke-width="2.2"/>
<ellipse cx="987.7" cy="314.6" rx="3.1" ry="4.7" transform="rotate(20.1 986.0 314.0)" fill="none" stroke="#000" stroke-width="1.3"/>
<path d="M980.6,315.6 L984.7,317.5 M982.9,309.3 L987.3,310.5" stroke="#000" stroke-width="1" fill="none"/>
<path d="M1010,354 L1025,354.3 Q1027,357 1025,360 L1010,360.5 Z" fill="#fff" stroke="#000" stroke-width="1.700"/>
<path d="M1013,354.500 L1013,360 M1015.500,354.500 L1015.500,360 M1018,354.500 L1018,360 M1020.500,354.500 L1020.500,360 M1023,354.500 L1023,360" stroke="#000" stroke-width="1" fill="none"/>
<ellipse cx="1006" cy="357" rx="5.500" ry="6.300" fill="#fff" stroke="#000" stroke-width="2.200"/>
<path class="t" d="M1026,357 L1033,357"/>
<!-- lower bolt & pin -->
<path class="wm2" d="M1063.5,399 L1068,396 L1073,398.500 L1073.500,405 L1069,408 L1064,406 Z"/>
<path class="k" d="M1072,398 L1082,391 L1084.5,394.5 L1074,402 Z"/>
<path class="wm2" d="M1060.5,377 L1068,379 L1067,384.500 L1060,382.500 Z"/>
<!-- stud on right -->
<ellipse class="wm2" cx="1174.5" cy="415" rx="6.500" ry="10" transform="rotate(8 1174.5 415)"/>
<path class="w" d="M1176,411.500 L1186,414 L1185,422.500 L1175.5,420.5 Z"/>
<path class="k" d="M1184,413.500 L1187,414.5 L1186,423 L1183,422 Z"/>
<!-- piece 16 lower -->
<path class="t" d="M1106.500,493.600 L1227.500,535.300 L1267,559.700 L1142,515 Z"/>
</g>

<!-- SECTION: bottomparts -->
<g id="bottomparts">
<!-- bearing 40 -->
<ellipse cx="84.400" cy="418.600" rx="22" ry="31.800" transform="rotate(28 84.4 418.6)" fill="#fff" stroke="#000" stroke-width="1.300"/>
<ellipse cx="85.800" cy="418.100" rx="21.500" ry="31.500" transform="rotate(28 85.8 418.1)" fill="#fff" stroke="#000" stroke-width="2"/>
<ellipse cx="85.700" cy="418.400" rx="12.500" ry="18.500" transform="rotate(28 85.7 418.4)" fill="#fff" stroke="#000" stroke-width="3"/>
<ellipse cx="88.500" cy="420" rx="8" ry="14" transform="rotate(28 88.5 420)" fill="none" stroke="#000" stroke-width="1.300"/>
<rect class="k" x="98.200" y="396.400" width="4" height="4" transform="rotate(30 100.2 398.4)"/>
<rect class="k" x="69.700" y="408.500" width="4" height="4" transform="rotate(30 71.7 410.5)"/>
<rect class="k" x="84.300" y="438.800" width="4" height="4" transform="rotate(30 86.3 440.8)"/>
<path class="t" d="M78,413 L92,420"/>
<ellipse cx="108" cy="429.300" rx="18.700" ry="18" fill="#fff" stroke="#000" stroke-width="2"/>
<ellipse cx="115.300" cy="433" rx="10" ry="13.200" transform="rotate(20 115.3 433)" fill="#fff" stroke="#000" stroke-width="1.900"/>
<ellipse cx="115.500" cy="434.500" rx="6.300" ry="8.800" transform="rotate(20 115.5 434.5)" fill="#fff" stroke="#000" stroke-width="1.500"/>
<path class="t" d="M112,431.500 L127,439"/>
<!-- bolt 39 -->
<path d="M60.1,458.6 L73.0,463.6 Q75.4,461.5 75.0,458.4 L62.1,453.4 Z" fill="#fff" stroke="#000" stroke-width="1.7" stroke-linejoin="round"/>
<path d="M65.3,460.3 L65.9,455.2 M67.0,460.9 L67.7,455.9 M68.8,461.6 L69.5,456.6 M70.6,462.3 L71.3,457.3 M72.4,463.0 L73.0,458.0 " stroke="#000" stroke-width="0.9" fill="none"/>
<ellipse cx="57.8" cy="454.7" rx="4.7" ry="6.5" transform="rotate(21.3 57.8 454.7)" fill="#fff" stroke="#000" stroke-width="2.2"/>
<ellipse cx="59.5" cy="455.4" rx="2.7" ry="4.0" transform="rotate(21.3 57.8 454.7)" fill="none" stroke="#000" stroke-width="1.3"/>
<path d="M53.1,456.0 L56.6,457.7 M55.2,450.6 L59.0,451.7" stroke="#000" stroke-width="1" fill="none"/>
<!-- bolt 1 / washer 2 (left) -->
<path d="M142.5,257.0 L161.8,263.8 Q164.4,261.0 164.2,257.2 L144.8,250.4 Z" fill="#fff" stroke="#000" stroke-width="1.7" stroke-linejoin="round"/>
<path d="M147.7,258.4 L148.7,252.1 M149.5,259.1 L150.5,252.7 M151.3,259.7 L152.3,253.4 M153.1,260.3 L154.0,254.0 M154.9,261.0 L155.8,254.6 M156.7,261.6 L157.6,255.3 M158.5,262.2 L159.4,255.9 M160.2,262.9 L161.2,256.5 " stroke="#000" stroke-width="0.9" fill="none"/>
<ellipse cx="139.0" cy="252.0" rx="6.5" ry="9.0" transform="rotate(19.5 139.0 252.0)" fill="#fff" stroke="#000" stroke-width="2.2"/>
<ellipse cx="140.7" cy="252.6" rx="3.8" ry="5.6" transform="rotate(19.5 139.0 252.0)" fill="none" stroke="#000" stroke-width="1.3"/>
<path d="M132.6,254.0 L137.5,256.2 M135.3,246.4 L140.5,247.8" stroke="#000" stroke-width="1" fill="none"/>
<ellipse cx="175" cy="265.6" rx="7" ry="8.4" fill="#fff" stroke="#000" stroke-width="2.6" transform="rotate(15 175 265.6)"/>
<ellipse cx="175.5" cy="266" rx="2.6" ry="3.6" fill="#fff" stroke="#000" stroke-width="1.6" transform="rotate(15 175.5 266)"/>
<path class="t" d="M164,261 L167.500,262.500 M182.500,268.500 L189,271"/>
<!-- plate 35 -->
<path class="wm2" d="M799,519 L812.500,511.500 L820,519 L819,536.500 L827.500,533 L829,503 L842.500,491 L845,493 L844,544 L797.500,578 L795,576.500 Z"/>
<path class="t" d="M797.500,578 L801.500,520.500 M842.500,491 L842,543"/>
<ellipse class="m" cx="808" cy="524" rx="2.200" ry="3.500" transform="rotate(15 808 524)"/>
<ellipse class="m" cx="836" cy="506.500" rx="2.200" ry="3.500" transform="rotate(15 836 506.5)"/>
<ellipse class="m" cx="822.500" cy="548.500" rx="2.200" ry="3.500" transform="rotate(15 822.5 548.5)"/>
<!-- bolt 37 washer 36 -->
<path d="M788.7,491.3 L803.9,497.3 Q806.4,495.1 806.1,491.7 L790.9,485.7 Z" fill="#fff" stroke="#000" stroke-width="1.7" stroke-linejoin="round"/>
<path d="M793.9,493.0 L794.7,487.5 M795.6,493.7 L796.5,488.2 M797.4,494.4 L798.3,488.9 M799.2,495.1 L800.0,489.6 M800.9,495.8 L801.8,490.3 M802.7,496.5 L803.6,491.0 " stroke="#000" stroke-width="0.9" fill="none"/>
<ellipse cx="786.0" cy="487.0" rx="5.4" ry="7.5" transform="rotate(21.5 786.0 487.0)" fill="#fff" stroke="#000" stroke-width="2.2"/>
<ellipse cx="787.7" cy="487.7" rx="3.1" ry="4.7" transform="rotate(21.5 786.0 487.0)" fill="none" stroke="#000" stroke-width="1.3"/>
<path d="M780.6,488.5 L784.6,490.5 M783.1,482.2 L787.4,483.5" stroke="#000" stroke-width="1" fill="none"/>
<ellipse cx="815" cy="499" rx="5.5" ry="7" fill="#fff" stroke="#000" stroke-width="2.4" transform="rotate(15 815 499)"/>
<ellipse class="k" cx="815.500" cy="499.500" rx="2.400" ry="3.600" transform="rotate(15 815.5 499.5)"/>
<!-- skid 30 -->
<path class="wm2" d="M950,732.500 Q975,722 995,700 Q1008,684 1015,671 Q1018,671.500 1017.500,675 L1015,725 Q995,750 945,787.500 L927.500,780 L947.500,770 Z"/>
<path class="t" d="M952.500,735 Q977,724.500 996.500,703 Q1008,689 1014,678"/>
<path class="l" d="M947.500,770 L945,787.500"/>
<path class="m" d="M956.500,740 Q958,737.500 959.500,740 L957,770 Q955,772.500 953.500,770 Z"/>
<path class="m" d="M982.500,721 Q984,718.500 985.500,721 L982.500,750 Q980.500,752.500 979,750 Z"/>
<path class="m" d="M1008,690 Q1009.500,687.500 1011,690 L1008.500,720 Q1006.500,722.500 1005.500,720 Z"/>
<ellipse class="m" cx="964" cy="765" rx="2" ry="3.600" transform="rotate(15 964 765)"/>
<ellipse class="m" cx="999.500" cy="729.500" rx="2" ry="3.600" transform="rotate(15 999.5 729.5)"/>
<!-- flange bits near skid top -->
<path class="l" d="M960.700,700 L975,683 L1000,657"/>
<path class="t" d="M963,702 Q972,694 976,686"/>
<!-- bolt 29 -->
<path d="M985.500,766.500 L1002.500,775" stroke="#000" stroke-width="5" stroke-dasharray="1.700 0.800" fill="none"/>
<path class="wm2" d="M1003,771.500 L1009,768.500 Q1014,771 1013,778 Q1011,784 1005.500,784 Z"/>
<!-- nut 32 -->
<path class="k" d="M837.500,762 L842,759 L846.500,761 L847.500,768 L843,771.500 L838.500,769.500 Z"/>
<ellipse cx="841" cy="764.500" rx="1.800" ry="2.300" fill="#fff"/>
<!-- drum end hub -->
<ellipse class="wm2" cx="780" cy="772.500" rx="14" ry="22" transform="rotate(25 780 772.5)"/>
<path class="l" d="M771,758 L783,764 M769,786 L781,779 M790,757 L788,764"/>
<ellipse class="k" cx="780" cy="740" rx="2" ry="3" transform="rotate(20 780 740)"/>
<ellipse class="k" cx="799" cy="736" rx="2" ry="3" transform="rotate(20 799 736)"/>
<ellipse class="k" cx="759" cy="774" rx="2" ry="3" transform="rotate(20 759 774)"/>
<ellipse class="m" cx="761" cy="805" rx="2" ry="3" transform="rotate(20 761 805)"/>
<ellipse class="k" cx="782.500" cy="802.500" rx="2" ry="3" transform="rotate(20 782.5 802.5)"/>
<!-- weld bump -->
<circle class="w" cx="803.500" cy="704" r="4.500"/>
<path class="l" d="M806,710 Q812,722 816,726 Q821,722 819,714"/>
<!-- ball 33 -->
<path class="w" d="M800,772 L824,778 L822,804 L800,800 Z" stroke="none"/>
<path class="wm2" d="M790.500,765 Q800,758 812,765 Q819,771 819.500,777 L812,779 Q806,790 808,803 Q797,808 787,800 Q777,790 780,776 Q783,768 790.500,765 Z"/>
<path class="l" d="M819.500,777 Q824,779 824.500,783 M808,803 L815,806"/>
<path class="l" d="M812,779 Q807,791 809.500,803.500 Q814,806 818,805"/>
<!-- washer 3 -->
<ellipse class="wm2" cx="830" cy="799" rx="11.500" ry="19" transform="rotate(12 830 799)"/>
<ellipse class="t" cx="828" cy="799" rx="10" ry="17.500" transform="rotate(12 828 799)"/>
<!-- shaft piece between washer and sprocket -->
<path class="w" d="M833,784 L852,792 L846,821 L828,813 Z" stroke="none"/>
<path class="l" d="M834,784.500 L853,793 M829,813 L846,821"/>
<path class="l" d="M834,784.500 Q828,796 829,813"/>
<!-- sprocket 31 -->
<path class="wm2" d="M902.3,838.5 L900.2,842.2 L894.4,843.3 L892.3,846.6 L893.6,852.9 L891.2,856.2 L885.8,856.1 L883.5,859.0 L883.7,865.5 L881.2,868.3 L876.5,867.0 L874.1,869.3 L873.4,875.7 L870.7,877.8 L867.1,875.3 L864.8,877.0 L863.0,882.9 L860.5,884.2 L858.1,880.7 L855.9,881.5 L853.3,886.6 L851.0,887.0 L850.0,882.7 L848.1,882.7 L844.8,886.7 L842.9,886.1 L843.2,881.3 L841.8,880.4 L838.0,883.0 L836.6,881.6 L838.3,876.6 L837.4,874.9 L833.3,876.0 L832.4,873.7 L835.5,868.7 L835.1,866.3 L830.9,865.8 L830.7,862.9 L834.9,858.2 L835.1,855.3 L831.1,853.2 L831.5,849.8 L836.5,845.7 L837.3,842.4 L833.7,838.9 L834.7,835.2 L840.4,831.9 L841.7,828.4 L838.7,823.7 L840.3,819.9 L846.2,817.7 L847.9,814.1 L845.7,808.5 L847.8,804.8 L853.6,803.7 L855.7,800.4 L854.4,794.1 L856.8,790.8 L862.2,790.9 L864.5,788.0 L864.3,781.5 L866.8,778.7 L871.5,780.0 L873.9,777.7 L874.6,771.3 L877.3,769.2 L880.9,771.7 L883.2,770.0 L885.0,764.1 L887.5,762.8 L889.9,766.3 L892.1,765.5 L894.7,760.4 L897.0,760.0 L898.0,764.3 L899.9,764.3 L903.2,760.3 L905.1,760.9 L904.8,765.7 L906.2,766.6 L910.0,764.0 L911.4,765.4 L909.7,770.4 L910.6,772.1 L914.7,771.0 L915.6,773.3 L912.5,778.3 L912.9,780.7 L917.1,781.2 L917.3,784.1 L913.1,788.8 L912.9,791.7 L916.9,793.8 L916.5,797.2 L911.5,801.3 L910.7,804.6 L914.3,808.1 L913.3,811.8 L907.6,815.1 L906.3,818.6 L909.3,823.3 L907.7,827.1 L901.8,829.3 L900.1,832.9 Z" stroke-width="1.400"/>
<path class="wm2" d="M905.7,837.4 L903.6,841.1 L897.8,842.2 L895.7,845.5 L897.0,851.8 L894.6,855.1 L889.2,855.0 L886.9,857.9 L887.1,864.4 L884.6,867.2 L879.9,865.9 L877.5,868.2 L876.8,874.6 L874.1,876.7 L870.5,874.2 L868.2,875.9 L866.4,881.8 L863.9,883.1 L861.5,879.6 L859.3,880.4 L856.7,885.5 L854.4,885.9 L853.4,881.6 L851.5,881.6 L848.2,885.6 L846.3,885.0 L846.6,880.2 L845.2,879.3 L841.4,881.9 L840.0,880.5 L841.7,875.5 L840.8,873.8 L836.7,874.9 L835.8,872.6 L838.9,867.6 L838.5,865.2 L834.3,864.7 L834.1,861.8 L838.3,857.1 L838.5,854.2 L834.5,852.1 L834.9,848.7 L839.9,844.6 L840.7,841.3 L837.1,837.8 L838.1,834.1 L843.8,830.8 L845.1,827.3 L842.1,822.6 L843.7,818.8 L849.6,816.6 L851.3,813.0 L849.1,807.4 L851.2,803.7 L857.0,802.6 L859.1,799.3 L857.8,793.0 L860.2,789.7 L865.6,789.8 L867.9,786.9 L867.7,780.4 L870.2,777.6 L874.9,778.9 L877.3,776.6 L878.0,770.2 L880.7,768.1 L884.3,770.6 L886.6,768.9 L888.4,763.0 L890.9,761.7 L893.3,765.2 L895.5,764.4 L898.1,759.3 L900.4,758.9 L901.4,763.2 L903.3,763.2 L906.6,759.2 L908.5,759.8 L908.2,764.6 L909.6,765.5 L913.4,762.9 L914.8,764.3 L913.1,769.3 L914.0,771.0 L918.1,769.9 L919.0,772.2 L915.9,777.2 L916.3,779.6 L920.5,780.1 L920.7,783.0 L916.5,787.7 L916.3,790.6 L920.3,792.7 L919.9,796.1 L914.9,800.2 L914.1,803.5 L917.7,807.0 L916.7,810.7 L911.0,814.0 L909.7,817.5 L912.7,822.2 L911.1,826.0 L905.2,828.2 L903.5,831.8 Z" stroke-width="1.400"/>
<ellipse class="wm2" cx="879" cy="822.500" rx="11.500" ry="24" transform="rotate(28 879 822.5)"/>
<path class="l" d="M870,806 Q866,820 871,838"/>
<ellipse class="m" cx="880.600" cy="790.600" rx="2" ry="3.200" transform="rotate(20 880.6 790.6)"/>
<ellipse class="m" cx="900" cy="787" rx="2" ry="3.200" transform="rotate(20 900 787)"/>
<ellipse class="m" cx="856" cy="823" rx="2" ry="3.200" transform="rotate(20 856 823)"/>
<ellipse class="m" cx="859" cy="857" rx="2" ry="3.200" transform="rotate(20 859 857)"/>
<ellipse class="m" cx="880.600" cy="855" rx="2" ry="3.200" transform="rotate(20 880.6 855)"/>
<ellipse class="k" cx="902" cy="820.600" rx="2" ry="3" transform="rotate(20 902 820.6)"/>
<!-- shaft 34 -->
<path class="w" d="M875,810 L961,853.500 L962,870 L950,874 L864.700,833 Q862,820 875,810 Z" stroke="none"/>
<path class="m" d="M875,810 L961,853.500 M864.700,833 L950,874"/>
<path class="l" d="M875,810 Q866,818 864.700,833"/>
<ellipse class="wm2" cx="955" cy="864" rx="7" ry="11" transform="rotate(15 955 864)"/>
<path class="k" d="M954,857 L961,855.500 L961.500,869 L955,871 Z"/>
<path class="l" d="M950.500,856 L951,873"/>
<ellipse cx="957.500" cy="863.500" rx="1.800" ry="3" fill="#fff"/>
<!-- bottom bolt -->
<path d="M906.7,879.8 L888.4,871.1 Q885.6,873.4 885.6,876.9 L903.9,885.7 Z" fill="#fff" stroke="#000" stroke-width="1.7" stroke-linejoin="round"/>
<path d="M901.7,877.8 L900.2,883.6 M899.9,876.9 L898.5,882.7 M898.2,876.1 L896.8,881.9 M896.5,875.3 L895.1,881.1 M894.8,874.5 L893.4,880.3 M893.1,873.7 L891.7,879.5 M891.4,872.8 L889.9,878.6 M889.7,872.0 L888.2,877.8 " stroke="#000" stroke-width="0.9" fill="none"/>
<ellipse cx="909.0" cy="884.5" rx="5.4" ry="7.5" transform="rotate(-154.5 909.0 884.5)" fill="#fff" stroke="#000" stroke-width="2.2"/>
<ellipse cx="907.4" cy="883.7" rx="3.1" ry="4.7" transform="rotate(-154.5 909.0 884.5)" fill="none" stroke="#000" stroke-width="1.3"/>
<path d="M914.5,883.4 L910.6,881.1 M911.6,889.5 L907.4,887.9" stroke="#000" stroke-width="1" fill="none"/>
</g>

<!-- SECTION: leaders -->
<g id="leaders">
<path class="t" d="M125,76 L139,241"/>
<path class="t" d="M158,76 L176,254"/>
<path class="t" d="M282,76 L306,303"/>
<path class="t" d="M408,76 L390,134"/>
<path class="t" d="M498,76 L463,205"/>
<path class="t" d="M747,77 L727.5,167.5"/>
<path class="t" d="M779,77 L770,199"/>
<path class="t" d="M846,77 L832.5,152.5"/>
<path class="t" d="M890,77 L877.5,146"/>
<path class="t" d="M911,77.5 L906,97.5"/>
<path class="t" d="M927.5,172.5 L912.5,185"/>
<path class="t" d="M1159,79 L1142,92"/>
<path class="t" d="M1189,77 L1140,146"/>
<path class="t" d="M1217,146 L1185,181"/>
<path class="t" d="M1217,191 L1172,219"/>
<path class="t" d="M962,188 L969,147"/>
<path class="t" d="M977,200 L985,160"/>
<path class="t" d="M992,210 L1000,165"/>
<path class="t" d="M1010,219 L1054,166"/>
<path class="t" d="M974,266 L987,307"/>
<path class="t" d="M1010,266 L1016,309"/>
<path class="t" d="M1011,266 L1041,342"/>
<path class="t" d="M1027,266 L1056,329"/>
<path class="t" d="M1112,298 L1122,347"/>
<path class="t" d="M1114,298 L1145,362"/>
<path class="t" d="M979,341 L1001,354"/>
<path class="t" d="M952.5,316 L932.5,336"/>
<path class="t" d="M957.5,347.5 L966,366"/>
<path class="t" d="M920,256.6 L897.5,266.8"/>
<path class="t" d="M913.8,280 L888.4,291.2"/>
<path class="t" d="M799.9,287 L778.5,283"/>
<path class="t" d="M707.5,210 L708.75,262"/>
<path class="t" d="M721,207.5 L722.5,272.5"/>
<path class="t" d="M730,202.5 L735,262.5"/>
<path class="t" d="M790,406 L881.3,263.7"/>
<path class="t" d="M795,408 L901.6,360.4"/>
<path class="t" d="M140,387.5 L110,401"/>
<path class="t" d="M67.5,465 L76,491"/>
<path class="t" d="M651,560 L782,493"/>
<path class="t" d="M672,571 L809,505"/>
<path class="t" d="M817.5,568 L794,628"/>
<path class="t" d="M459,744 L501,827"/>
<path class="t" d="M841,745 L821,770"/>
<path class="t" d="M856,752 L847,760"/>
<path class="t" d="M824,828 L824,820"/>
<path class="t" d="M936,827.5 L917.5,807.5"/>
<path class="t" d="M955,827.5 L962.5,779"/>
<path class="t" d="M997.5,827.5 L1005.5,785"/>
<path class="t" d="M932,879 L935,868.5"/>
<path class="t" d="M970,578 L1216,564.5"/>
<path class="t" d="M1017.5,601 L1216,625"/>
<path class="t" d="M1074,404 L1218,460"/>
<path class="t" d="M1220.4,495.6 L1175.6,515"/>
<path class="t" d="M1042,356 L1100,356"/>
<path class="t" d="M640,117 L640,178"/>
<path class="d" d="M640,117 L968,28 L938,392" stroke-dasharray="72 4 3 4"/>
<path class="d" d="M841,122.5 L937.5,147.5 L890,167.5"/>
<path class="d" d="M745,182.5 L755,185 L755,215"/>
<path class="d" d="M735,192.5 L757.5,197.5 L737.5,210 L762.5,216"/>
<path class="d" d="M731,235 L714.4,240.3 L838.5,281"/>
<path class="d" d="M744,240 L744,293 L750,290"/>
<path class="d" d="M888.4,297.3 L933.1,311.6 L908.7,324.8"/>
<path class="d" d="M893.5,344.1 L919.9,329.9 L940.3,337"/>
<path class="d" d="M65,406.300 L42,394.800 L189,344.5 L265,376 L360,341 L314,321"/>
<path class="d" d="M1020,327 L1030,328 L1026,368 L1045,374"/>
<path class="d" d="M1066.8,465 L1152,493.6 L1137,532 L1173.6,544.5 L1181.7,522"/>
<path class="d" d="M1059.7,478.3 L1066.8,465 M1059.7,478.3 L1119.7,488.5 L1122.7,467"/>
<path class="d" d="M687.5,604 L622.5,574 L747.5,495 L800,516.5"/>
<path class="d" d="M846,534 L864,541.5"/>
<path class="d" d="M765,640 L835,671.5"/>
<path class="d" d="M889,760 L892.5,724 L907.5,729 M910,731 L985,765"/>
<path class="d" d="M945,721 L951,723.7 M1003,747.5 L1061,774 L979,875 L961,865.6"/>
<path class="d" d="M846,767.5 L875,780"/>
<path class="d" d="M762.5,806 L832.5,845"/>
<path class="d" d="M860,858 L886,871"/>
<path class="t" d="M1112,367 L1110,399 L1147,374" stroke-dasharray="5 2.5"/>
<circle cx="139.0" cy="241.0" r="1.4" fill="#000"/>
<circle cx="176.0" cy="254.0" r="1.4" fill="#000"/>
<circle cx="306.0" cy="303.0" r="1.4" fill="#000"/>
<circle cx="390.0" cy="134.0" r="1.4" fill="#000"/>
<circle cx="463.0" cy="205.0" r="1.4" fill="#000"/>
<circle cx="727.5" cy="167.5" r="1.4" fill="#000"/>
<circle cx="770.0" cy="199.0" r="1.4" fill="#000"/>
<circle cx="832.5" cy="152.5" r="1.4" fill="#000"/>
<circle cx="877.5" cy="146.0" r="1.4" fill="#000"/>
<circle cx="906.0" cy="97.5" r="1.4" fill="#000"/>
<circle cx="912.5" cy="185.0" r="1.4" fill="#000"/>
<circle cx="1142.0" cy="92.0" r="1.4" fill="#000"/>
<circle cx="1140.0" cy="146.0" r="1.4" fill="#000"/>
<circle cx="1185.0" cy="181.0" r="1.4" fill="#000"/>
<circle cx="1172.0" cy="219.0" r="1.4" fill="#000"/>
<circle cx="969.0" cy="147.0" r="1.4" fill="#000"/>
<circle cx="985.0" cy="160.0" r="1.4" fill="#000"/>
<circle cx="1000.0" cy="165.0" r="1.4" fill="#000"/>
<circle cx="1054.0" cy="166.0" r="1.4" fill="#000"/>
<circle cx="987.0" cy="307.0" r="1.4" fill="#000"/>
<circle cx="1016.0" cy="309.0" r="1.4" fill="#000"/>
<circle cx="1041.0" cy="342.0" r="1.4" fill="#000"/>
<circle cx="1056.0" cy="329.0" r="1.4" fill="#000"/>
<circle cx="1122.0" cy="347.0" r="1.4" fill="#000"/>
<circle cx="1145.0" cy="362.0" r="1.4" fill="#000"/>
<circle cx="1001.0" cy="354.0" r="1.4" fill="#000"/>
<circle cx="932.5" cy="336.0" r="1.4" fill="#000"/>
<circle cx="966.0" cy="366.0" r="1.4" fill="#000"/>
<circle cx="897.5" cy="266.8" r="1.4" fill="#000"/>
<circle cx="888.4" cy="291.2" r="1.4" fill="#000"/>
<circle cx="778.5" cy="283.0" r="1.4" fill="#000"/>
<circle cx="708.75" cy="262.0" r="1.4" fill="#000"/>
<circle cx="722.5" cy="272.5" r="1.4" fill="#000"/>
<circle cx="735.0" cy="262.5" r="1.4" fill="#000"/>
<circle cx="881.3" cy="263.7" r="1.4" fill="#000"/>
<circle cx="901.6" cy="360.4" r="1.4" fill="#000"/>
<circle cx="110.0" cy="401.0" r="1.4" fill="#000"/>
<circle cx="76.0" cy="491.0" r="1.4" fill="#000"/>
<circle cx="794.0" cy="628.0" r="1.4" fill="#000"/>
<circle cx="501.0" cy="827.0" r="1.4" fill="#000"/>
<circle cx="821.0" cy="770.0" r="1.4" fill="#000"/>
<circle cx="847.0" cy="760.0" r="1.4" fill="#000"/>
<circle cx="824.0" cy="820.0" r="1.4" fill="#000"/>
<circle cx="917.5" cy="807.5" r="1.4" fill="#000"/>
<circle cx="962.5" cy="779.0" r="1.4" fill="#000"/>
<circle cx="1005.5" cy="785.0" r="1.4" fill="#000"/>
<circle cx="935.0" cy="868.5" r="1.4" fill="#000"/>
<circle cx="1216.0" cy="564.5" r="1.4" fill="#000"/>
<circle cx="1216.0" cy="625.0" r="1.4" fill="#000"/>
<circle cx="1218.0" cy="460.0" r="1.4" fill="#000"/>
<circle cx="1175.6" cy="515.0" r="1.4" fill="#000"/>
</g>

<!-- SECTION: labels -->
<g id="labels">
<text class="n" x="125" y="73.8">I</text>
<text class="n" x="157" y="73.8">2</text>
<text class="n" x="281" y="73.8">3</text>
<text class="n" x="410" y="73.8">4</text>
<text class="n" x="501" y="73.8">5</text>
<text class="n" x="747" y="74.8">6</text>
<text class="n" x="780" y="74.8">7</text>
<text class="n" x="847" y="74.8">8</text>
<text class="n" x="891" y="74.8">9</text>
<text class="n" x="913" y="74.8">I0</text>
<text class="n" x="1161" y="74.8">I6</text>
<text class="n" x="1190" y="74.8">I7</text>
<text class="n" x="1224" y="150.8">I8</text>
<text class="n" x="1224" y="194.8">I9</text>
<text class="n" x="932" y="173.8">II</text>
<text class="n" x="960" y="199.8">I2</text>
<text class="n" x="975" y="211.8">I3</text>
<text class="n" x="991" y="221.8">I4</text>
<text class="n" x="1008" y="230.8">I5</text>
<text class="n" x="927" y="256.8">22</text>
<text class="n" x="972" y="263.8">2I</text>
<text class="n" x="1007" y="263.8">I4</text>
<text class="n" x="1024" y="263.8">20</text>
<text class="n" x="922" y="282.8">I2</text>
<text class="n" x="707" y="274.8">26</text>
<text class="n" x="722" y="285.8">25</text>
<text class="n" x="736" y="274.8">24</text>
<text class="n" x="809" y="293.8">27</text>
<text class="n" x="1112" y="295.8">I2</text>
<text class="n" x="958" y="315.8">I3</text>
<text class="n" x="956" y="345.8">23</text>
<text class="n" x="976" y="338.8">I6</text>
<text class="n" x="781" y="416.8">28</text>
<text class="n" x="147.5" y="390.8">40</text>
<text class="n" x="77" y="505.8">39</text>
<text class="n" x="645" y="576.3">37</text>
<text class="n" x="665" y="584.8">36</text>
<text class="n" x="790" y="640.8">35</text>
<text class="n" x="507" y="840.8">38</text>
<text class="n" x="842" y="743.8">33</text>
<text class="n" x="862.5" y="754.8">32</text>
<text class="n" x="824" y="839.8">3</text>
<text class="n" x="941" y="838.8">3I</text>
<text class="n" x="962.5" y="838.8">30</text>
<text class="n" x="997.5" y="838.8">29</text>
<text class="n" x="932" y="889.8">34</text>
<text class="n" x="1224.5" y="568.8">2</text>
<text class="n" x="1222" y="629.8">I</text>
<text class="n" x="1226.5" y="466.8">2I</text>
<text class="n" x="1227.5" y="499.40000000000003">I6</text>
</g>

<g id="bottomstrip">
<path d="M150,908.3 L164,908.3 M167,908.3 L184,908.3 M186,908.3 L190,908.3 M192,908.3 L200,908.3 M216,908.3 L233,908.3 M236.5,908.3 L248,908.3 M251,908.3 L257,908.3 M261,908.3 L286,908.3 M291,908.3 L301.5,908.3 M304.6,908.3 L339,908.3 M345,908.3 L351,908.3 M354,908.3 L372.7,908.3 M376.8,908.3 L400,908.3 M402,908.3 L412,908.3 M415,908.3 L430,908.3 M433,908.3 L465.6,908.3 M489,908.3 L500,908.3 M504.7,908.3 L543.75,908.3 M550,908.3 L556,908.3 M570,908.3 L581,908.3 M590.6,908.3 L595,908.3 M600,908.3 L604.7,908.3" stroke="#3a3a3a" stroke-width="1.600" fill="none"/>
<path d="M558,907 L561,907 L561,909 L558,909 Z M611,906.500 L616,906.500 L616,909 L611,909 Z M751,906.500 L752.500,906.500 L752.500,908 L751,908 Z" fill="#3a3a3a"/>
</g>
<!-- WATERMARK -->
<g id="watermark" fill="#d0d0d0" fill-rule="evenodd" style="mix-blend-mode:multiply">
<text x="326" y="503" font-family="Liberation Serif, serif" font-weight="bold" font-size="150" fill="#d0d0d0" textLength="603" lengthAdjust="spacingAndGlyphs">PartsTree</text>
<text x="921.5" y="419.5" font-family="Liberation Sans, sans-serif" font-size="21" fill="#d6d6d6" textLength="31" lengthAdjust="spacingAndGlyphs">TM</text>
</g>
</svg>
</body>
</html>
